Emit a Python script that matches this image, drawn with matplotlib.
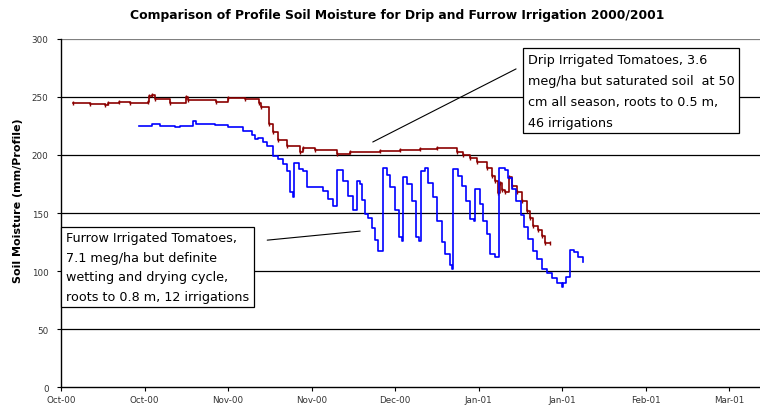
import numpy as np
import matplotlib
matplotlib.use("Agg")
import matplotlib.pyplot as plt
import matplotlib.dates as mdates
from datetime import datetime, timedelta

plt.rcParams['font.family'] = ['DejaVu Sans']

# season starts 1 Oct 2000, days counted from there
season_start = datetime(2000, 10, 1)

# drip irrigated tomatoes (day, mm/profile)
drip_days = [2.9, 6.9, 10.5, 11.3, 14, 16.5, 20.8, 21, 21.8, 22.5, 26, 30, 30.5, 37, 40, 44,
             47.4, 48, 49.8, 50.8, 52, 54.1, 57.2, 58, 60.8, 66.1, 69.2, 76.4, 81.2, 86, 90,
             94.8, 96.3, 98, 99.6, 102, 103.2, 104, 104.6, 105.1, 105.7, 106.3, 107.3, 108,
             109.2, 110.4, 111.6, 112.3, 113, 114.3, 115.2, 115.9, 117.1]
drip_vals = [245, 244, 243.5, 245, 246, 245, 246, 251, 252, 248, 245, 250, 247, 246, 249, 248,
             245, 241, 227, 220, 213, 208, 202.5, 206, 204, 201, 203, 203.5, 204, 205, 206,
             203, 200, 197.5, 194, 188.5, 182, 178, 167, 176, 170, 168, 181, 173.6,
             168, 160, 152, 146, 139, 135, 130.5, 124, 124]

# furrow irrigated tomatoes (day, mm/profile)
furrow_days = [18.7, 21.8, 23.7, 27.3, 28.5, 31.6, 32.3, 36.9, 40, 43.6, 45.7, 46.5, 47.2,
               48.4, 49.3, 50.8, 52, 53.2, 54.1, 54.9, 55.6, 55.9, 57, 58, 59, 62.8, 64,
               65.1, 66.1, 67.5, 68.7, 69.9, 70.9, 71.6, 72.1, 72.8, 73.5, 74.5, 75.2, 75.9,
               77.1, 78, 78.8, 80, 80.96, 81.7, 81.9, 82.9, 84.1, 85, 85.75, 86.2, 87.2,
               87.9, 89.1, 90, 91.3, 92, 93.2, 93.7, 93.9, 95.1, 96, 97, 98, 98.9, 99.2,
               100.4, 101.1, 102, 102.8, 104, 104.9, 106.3, 107, 108, 109, 110.2, 110.9,
               111.9, 113, 114, 115.2, 116.4, 117.6, 118.8, 120, 120.2, 121, 121.9, 122.9,
               123.8, 125]
furrow_vals = [225, 227, 225, 224, 225, 229, 227, 226, 224, 221, 217, 214, 215,
               211, 208, 199.5, 196.5, 192, 186.5, 168, 164, 193, 188, 186, 172, 169, 162,
               156, 187, 178, 165, 153, 178, 175, 161, 149, 146, 137, 127, 117,
               188.5, 183, 172, 153, 129, 126, 181, 175, 160, 129, 126, 186, 189,
               176, 163.5, 143, 125, 115, 105, 102, 188, 182, 173.6, 160.6, 145, 143, 171,
               158, 143.4, 132, 115, 112, 188.5, 187, 180, 171, 160.6, 148, 137.6,
               127.6, 117.5, 110, 102, 98, 94, 90, 86, 90, 94.5, 118, 116,
               112, 107.5]

yticks = [0, 50, 100, 150, 200, 250, 300]
tick_step_days = 20
n_ticks = 9

title = "Comparison of Profile Soil Moisture for Drip and Furrow Irrigation 2000/2001"
ylabel = "Soil Moisture (mm/Profile)"
drip_note = ("Drip Irrigated Tomatoes, 3.6\nmeg/ha but saturated soil  at 50\n"
             "cm all season, roots to 0.5 m,\n46 irrigations")
furrow_note = ("Furrow Irrigated Tomatoes,\n7.1 meg/ha but definite\n"
               "wetting and drying cycle,\nroots to 0.8 m, 12 irrigations")


def to_dates(days):
    return [season_start + timedelta(days=d) for d in days]


fig = plt.figure(figsize=(7.6, 4.06), dpi=100)
ax = fig.add_axes([0.0803, 0.0443, 0.9197, 0.8572])

ax.plot(to_dates(drip_days), drip_vals, drawstyle='steps-post', color='#8b0000', lw=1.2,
        marker='|', markersize=3, markeredgewidth=1.0, zorder=3)
ax.plot(to_dates(furrow_days), furrow_vals, drawstyle='steps-post', color='#0000ff', lw=1.2,
        zorder=3)

ax.set_ylim(0, 300)
ax.set_yticks(yticks)
ax.set_xlim(season_start, season_start + timedelta(days=167.4))
ax.set_xticks(to_dates([tick_step_days * i for i in range(n_ticks)]))
ax.xaxis.set_major_formatter(mdates.DateFormatter('%b-%y'))

for y in yticks[1:-1]:
    ax.axhline(y, color='black', lw=0.9, zorder=1)
ax.axhline(300, color='#808080', lw=0.9, zorder=1)

for s in ['top', 'right']:
    ax.spines[s].set_visible(False)
for s in ['left', 'bottom']:
    ax.spines[s].set_linewidth(1.0)

ax.tick_params(axis='both', labelsize=6.3, labelcolor='#333333', color='black',
               length=3, width=0.8, direction='out')
ax.tick_params(axis='x', pad=3)
ax.tick_params(axis='y', pad=6)

fig.text(0.522, 0.962, title, ha='center', va='center', fontsize=8.9, fontweight='bold')
ax.set_ylabel(ylabel, fontsize=8, fontweight='bold')
ax.yaxis.set_label_coords(-0.055, 0.537)

box = dict(boxstyle='square,pad=0.35', fc='white', ec='black', lw=0.9)
ax.text(0.668, 0.96, drip_note, transform=ax.transAxes, ha='left', va='top', fontsize=9.2,
        linespacing=1.8, bbox=box, zorder=5)
ax.text(0.007, 0.447, furrow_note, transform=ax.transAxes, ha='left', va='top', fontsize=9.2,
        linespacing=1.65, bbox=box, zorder=5)

ax.annotate('', xy=(0.446, 0.704), xytext=(0.651, 0.914), xycoords='axes fraction',
            arrowprops=dict(arrowstyle='-', color='black', lw=0.8, shrinkA=0, shrinkB=0))
ax.annotate('', xy=(0.428, 0.448), xytext=(0.295, 0.422), xycoords='axes fraction',
            arrowprops=dict(arrowstyle='-', color='black', lw=0.8, shrinkA=0, shrinkB=0))

fig.savefig('out.png', dpi=100)
